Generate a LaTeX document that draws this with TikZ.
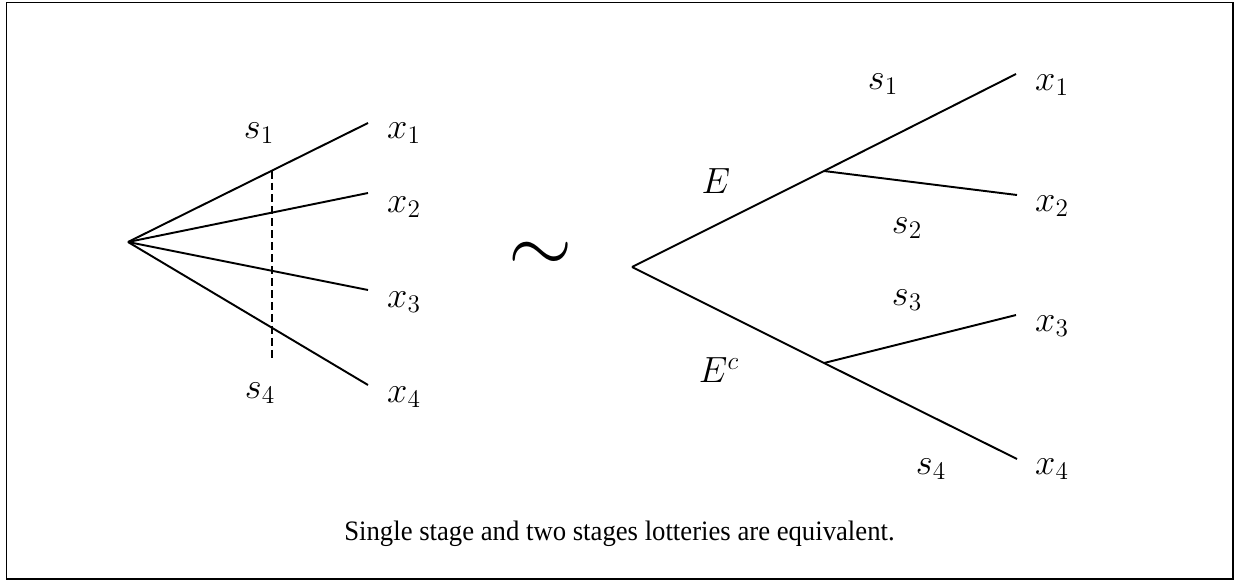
\documentclass[tikz,border=0pt]{standalone}
\usepackage{amsmath}
\usepackage{fontspec}
\setmainfont{Liberation Serif}
\usepackage{tikz}
\usetikzlibrary{positioning,calc}

\begin{document}
\begin{tikzpicture}[x=0.02cm,y=-0.02cm,
    branch/.style={line width=1.1pt},
    lbl/.style={font=\fontsize{20}{24}\selectfont,inner sep=0pt},
    capt/.style={font=\fontsize{16}{18}\selectfont,inner sep=0pt,anchor=base}]
    \useasboundingbox (0,0) rectangle (1237,581);
    \draw[line width=1pt] (6.5,2.5) rectangle (1233,579);
    % single stage lottery
    \coordinate (rootl) at (128,242);
    \coordinate (la1) at (368,123); \coordinate (la2) at (368,193);
    \coordinate (la3) at (368,290); \coordinate (la4) at (368,385);
    \foreach \i in {1,...,4} \draw[branch] (rootl)--(la\i);
    \coordinate (cut1) at (272,170.6); \coordinate (cut2) at (272,360);
    \draw[line width=0.9pt,dash pattern=on 4.5pt off 2.3pt] (cut1)--(cut2);
    \node[lbl] (ls1) at (259,133) {$s_1$};
    \node[lbl] (ls4) at (260,393) {$s_4$};
    \node[lbl] (lx1) at (404,133) {$x_1$}; \node[lbl] (lx2) at (404,207) {$x_2$};
    \node[lbl] (lx3) at (404,302) {$x_3$}; \node[lbl] (lx4) at (404,397) {$x_4$};
    % equivalence
    \node[inner sep=0pt] (eqv) at (541,257) {\scalebox{4.7}{$\sim$}};
    % two stages lottery
    \coordinate (rootr) at (632,267);
    \coordinate (ev) at (824,171); \coordinate (evc) at (824,363);
    \coordinate (rb1) at (1016,74); \coordinate (rb2) at (1017,195);
    \coordinate (rb3) at (1016,315); \coordinate (rb4) at (1017,459);
    \draw[branch] (rootr)--(ev)--(rb1); \draw[branch] (ev)--(rb2);
    \draw[branch] (rootr)--(evc)--(rb4); \draw[branch] (evc)--(rb3);
    \node[lbl] (re) at (716,181) {$E$};
    \node[lbl] (rec) at (719,370) {$E^c$};
    \node[lbl] (rs1) at (883,84) {$s_1$}; \node[lbl] (rs2) at (907,228) {$s_2$};
    \node[lbl] (rs3) at (907,300) {$s_3$}; \node[lbl] (rs4) at (931,469) {$s_4$};
    \node[lbl] (rx1) at (1052,85) {$x_1$}; \node[lbl] (rx2) at (1052,206) {$x_2$};
    \node[lbl] (rx3) at (1052,326) {$x_3$}; \node[lbl] (rx4) at (1052,469) {$x_4$};
    \node[capt] (cap) at (619.5,540.7) {\scalebox{0.95}[1]{Single stage and two stages lotteries are equivalent.}};
  \end{tikzpicture}
\end{document}
